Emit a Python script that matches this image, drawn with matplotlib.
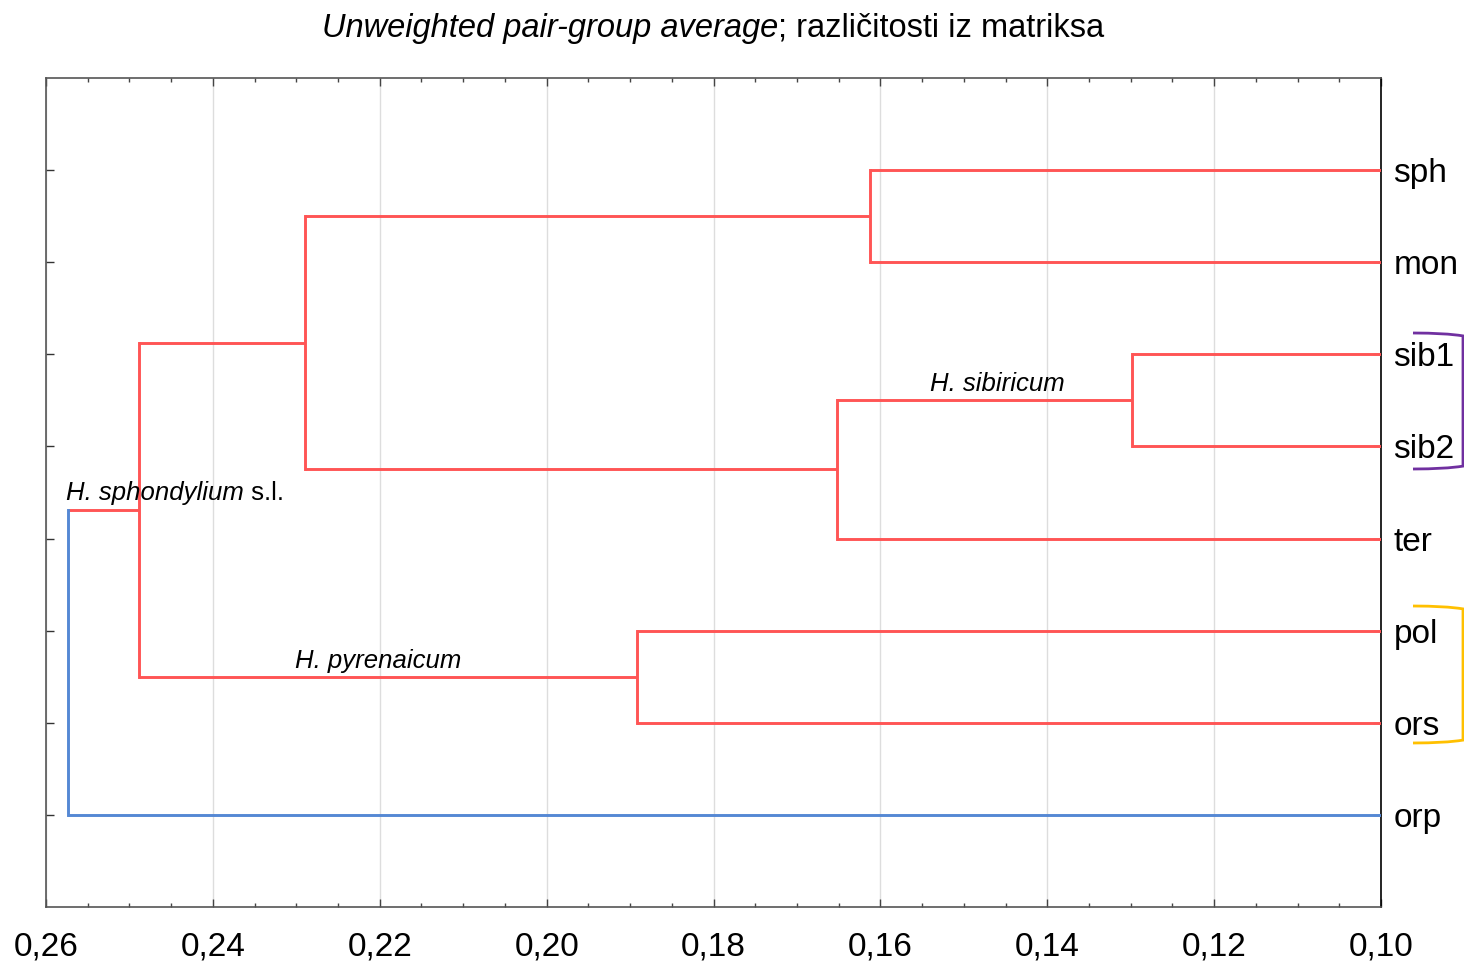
import matplotlib
matplotlib.use('Agg')
from matplotlib import pyplot as plt
from matplotlib.path import Path
from matplotlib.patches import PathPatch
from matplotlib.ticker import MultipleLocator, FuncFormatter

plt.rcParams['font.family'] = ['Liberation Sans', 'DejaVu Sans']

# leaves, top to bottom
leaves = ['sph', 'mon', 'sib1', 'sib2', 'ter', 'pol', 'ors', 'orp']
leaf_colors = ['red', 'red', 'red', 'red', 'red', 'red', 'red', 'blue']

# merges: (child a, child b, height); new node ids start at len(leaves)
merge_a = [2, 0, 8, 5, 9, 12, 13]
merge_b = [3, 1, 4, 6, 10, 11, 7]
merge_h = [0.1298, 0.1612, 0.1652, 0.1892, 0.2290, 0.2489, 0.2574]
merge_colors = ['red', 'red', 'red', 'red', 'red', 'red', 'blue']

x_ticks = [0.26, 0.24, 0.22, 0.20, 0.18, 0.16, 0.14, 0.12, 0.10]

colors = {'red': '#FF5555', 'blue': '#5588D4'}

fig = plt.figure(figsize=(14.64, 9.64), dpi=100)
ax = fig.add_axes([46 / 1464, 57 / 964, 1335 / 1464, 829 / 964])

ax.set_xlim(0.26, 0.10)
ax.set_ylim(len(leaves) + 1, 0)

# node positions
pos_y = [i + 1 for i in range(len(leaves))]
pos_h = [0.10] * len(leaves)
node_col = list(leaf_colors)
for a, b, h, c in zip(merge_a, merge_b, merge_h, merge_colors):
    ya, yb = pos_y[a], pos_y[b]
    # horizontal legs, coloured by child
    ax.plot([pos_h[a], h], [ya, ya], color=colors[node_col[a]], lw=2.1, solid_capstyle='butt', zorder=3)
    ax.plot([pos_h[b], h], [yb, yb], color=colors[node_col[b]], lw=2.1, solid_capstyle='butt', zorder=3)
    # vertical, coloured by parent
    ax.plot([h, h], [ya, yb], color=colors[c], lw=2.1, solid_capstyle='projecting', zorder=3)
    pos_y.append((ya + yb) / 2)
    pos_h.append(h)
    node_col.append(c)

# axes styling
ax.set_xticks(x_ticks)
ax.xaxis.set_minor_locator(MultipleLocator(0.005))
ax.xaxis.set_major_formatter(FuncFormatter(lambda v, p: f'{v:.2f}'.replace('.', ',')))
ax.set_yticks(range(1, len(leaves) + 1))
ax.set_yticklabels(leaves)
ax.tick_params(axis='x', which='both', direction='in', top=True, bottom=True,
               labelsize=24, pad=18, color='#444444')
ax.tick_params(axis='x', which='major', length=6, width=1)
ax.tick_params(axis='x', which='minor', length=3, width=1)
ax.tick_params(axis='y', direction='in', left=True, right=True, labelleft=False,
               labelright=True, labelsize=24, pad=9, length=6, width=1, color='#333333')
ax.grid(axis='x', which='major', color='#DDDDDD', lw=1, zorder=0)
for s in ['left', 'top', 'bottom']:
    ax.spines[s].set_color('#555555')
ax.spines['right'].set_color('black')
for s in ax.spines.values():
    s.set_linewidth(1.2)

# cluster annotations
ax.text(0.146, 3.40, 'H. sibiricum', style='italic', fontsize=18.5, ha='center', va='baseline')
ax.text(0.2202, 6.41, 'H. pyrenaicum', style='italic', fontsize=18.5, ha='center', va='baseline')
t1 = ax.text(0.2576, 4.58, 'H. sphondylium', style='italic', fontsize=18.5, ha='left', va='baseline')
ax.annotate(' s.l.', xy=(1, 0), xycoords=t1, fontsize=18.5, ha='left', va='bottom')

# brackets beside grouped leaves (figure pixels from the top)
def bracket(y0, y1, color):
    x0, x1 = 1413 / 1464, 1463 / 1464
    yy0 = 1 - y0 / 964
    yy1 = 1 - y1 / 964
    verts = [(x0, yy0), (x1 - 0.012, yy0), (x1, yy0 - 0.003),
             (x1, yy1 + 0.003), (x1 - 0.012, yy1), (x0, yy1)]
    codes = [Path.MOVETO, Path.CURVE3, Path.CURVE3,
             Path.LINETO, Path.CURVE3, Path.CURVE3]
    fig.add_artist(PathPatch(Path(verts, codes), transform=fig.transFigure,
                             fill=False, edgecolor=color, lw=2.0, clip_on=False))

bracket(333, 469, '#7030A0')
bracket(606, 743, '#FFC000')

# title: italic part then plain part
fig.text(778 / 1464, 1 - 28 / 964, 'Unweighted pair-group average', style='italic',
         fontsize=23.5, ha='right', va='center')
fig.text(778 / 1464, 1 - 28 / 964, '; različitosti iz matriksa', fontsize=23.5,
         ha='left', va='center')

fig.savefig('out.png', dpi=100)
